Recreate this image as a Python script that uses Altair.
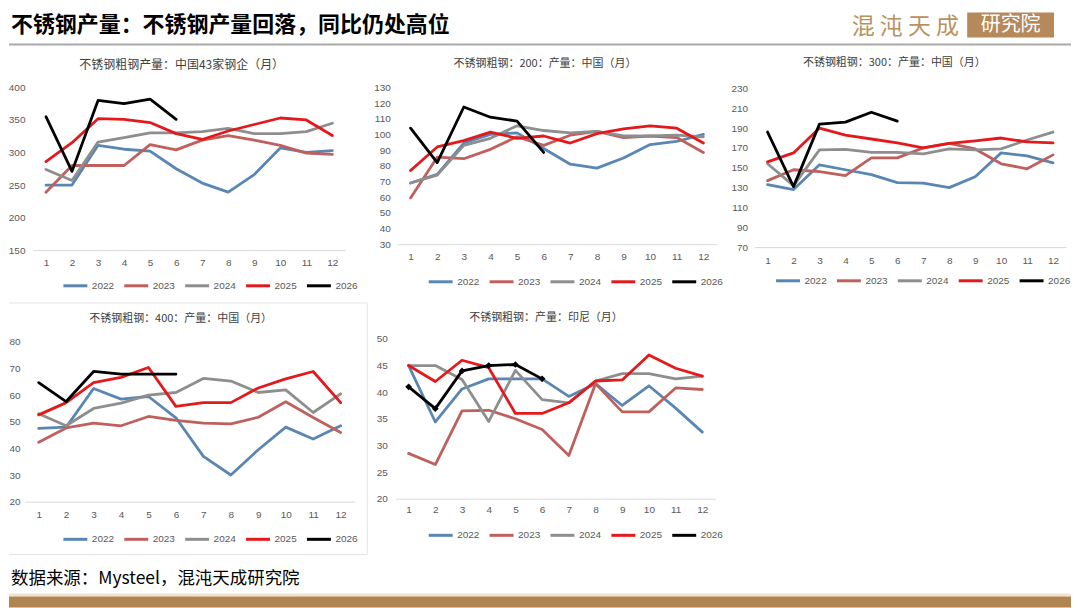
import altair as alt
import pandas as pd

MONTHS = list(range(1, 13))
YEARS = ["2022", "2023", "2024", "2025", "2026"]
COLORS = ["#5A86B4", "#C0605E", "#8E8E8E", "#E3191C", "#000000"]

HEADER = "不锈钢产量：不锈钢产量回落，同比仍处高位"
SOURCE = "数据来源：Mysteel，混沌天成研究院"
LOGO_A = "混 沌 天 成"
LOGO_B = "研究院"

P1_TITLE = "不锈钢粗钢产量：中国43家钢企（月）"
P1 = {
    "2022": [250, 250, 311, 305, 302, 275, 253, 239, 266, 307, 300, 303],
    "2023": [239, 280, 280, 280, 312, 304, 319, 326, 319, 311, 299, 297],
    "2024": [274, 257, 316, 323, 330, 330, 332, 337, 329, 329, 332, 345],
    "2025": [286, 315, 352, 351, 346, 329, 320, 333, 343, 353, 350, 326],
    "2026": [355, 271, 380, 375, 382, 351],
}
P1_TICKS = [150, 200, 250, 300, 350, 400]

P2_TITLE = "不锈钢粗钢：200：产量：中国（月）"
P2 = {
    "2022": [69, 74.5, 94.5, 100, 101, 91, 81, 78.5, 85, 93.5, 95.5, 100],
    "2023": [59.5, 85.5, 84.5, 90.5, 98.5, 93, 99.5, 102, 98, 99, 98, 88.5],
    "2024": [69, 74, 93, 97.5, 105.5, 102.5, 101, 102, 99, 99, 99.5, 98.5],
    "2025": [77, 92, 96, 101.5, 97.5, 99, 94.5, 100.5, 103.5, 105.5, 104, 94.5],
    "2026": [104, 82, 117.5, 111, 108.5, 88.5],
}
P2_TICKS = [30, 40, 50, 60, 70, 80, 90, 100, 110, 120, 130]

P3_TITLE = "不锈钢粗钢：300：产量：中国（月）"
P3 = {
    "2022": [133, 128, 153, 148, 143, 135, 134.5, 130, 141, 165, 162, 155],
    "2023": [137, 148, 146, 142, 160, 160, 170, 174.5, 169, 154, 149, 163],
    "2024": [154, 132, 168, 168.5, 165.5, 165.5, 164, 169, 168, 169, 178, 186],
    "2025": [156, 165, 190, 183, 179, 175, 170, 174.5, 177, 180, 176, 175],
    "2026": [186, 131, 194, 196, 206, 197],
}
P3_TICKS = [70, 90, 110, 130, 150, 170, 190, 210, 230]

P4_TITLE = "不锈钢粗钢：400：产量：中国（月）"
P4 = {
    "2022": [47.5, 48, 62.5, 58.5, 59.5, 51.5, 37, 30, 39.5, 48, 43.5, 48.5],
    "2023": [42.3, 47.7, 49.5, 48.5, 52, 50.5, 49.5, 49.2, 51.7, 57.5, 51.6, 46],
    "2024": [53, 48.5, 55, 57, 60, 61, 66.3, 65.3, 61, 62, 53.5, 60.5],
    "2025": [52.6, 57.2, 64.7, 66.7, 70.4, 55.8, 57.2, 57.2, 62.7, 66.1, 68.9, 57.2],
    "2026": [64.7, 57.6, 68.9, 67.9, 67.9, 67.9],
}
P4_TICKS = [20, 30, 40, 50, 60, 70, 80]

P5_TITLE = "不锈钢粗钢：产量：印尼（月）"
P5 = {
    "2022": [45, 34.4, 40.6, 42.5, 42.5, 42.5, 39.2, 41.6, 37.5, 41.2, 37, 32.5],
    "2023": [28.5, 26.4, 36.5, 36.6, 35, 33, 28.1, 41.6, 36.3, 36.3, 40.8, 40.5],
    "2024": [45, 45, 42.4, 34.5, 44.1, 38.6, 38, 42.1, 43.5, 43.5, 42.5, 43],
    "2025": [45, 42, 46, 44.6, 36, 36, 38, 42.1, 42.3, 47, 44.5, 43],
    "2026": [41, 36.9, 44, 45, 45.2, 42.5],
}
P5_TICKS = [20, 25, 30, 35, 40, 45, 50]

LABEL_FONT = "Liberation Sans"
CJK = "Noto Sans CJK SC"
GREY_TXT = "#595959"


def long_df(d):
    rows = []
    for y in YEARS:
        for m, v in zip(MONTHS, d[y]):
            rows.append({"month": m, "year": y, "value": v})
    return pd.DataFrame(rows)


def one(**kw):
    return pd.DataFrame([kw])


def panel(d, title, tpos, tsize, ydom, yticks, yrange, xrange, W, H, ylab_pad,
          xlab_pad, legX, legY, extra_before=(), extra_after=(), diamonds=False):
    df = long_df(d)
    x = alt.X("month:O",
              scale=alt.Scale(type="point", domain=MONTHS, range=xrange, padding=0.5),
              axis=alt.Axis(title=None, labelAngle=0, ticks=False, tickSize=0,
                            grid=False, domainColor="#D9D9D9", domainWidth=1,
                            labelColor=GREY_TXT, labelFontSize=10, labelFont=LABEL_FONT,
                            labelPadding=xlab_pad))
    y = alt.Y("value:Q",
              scale=alt.Scale(domain=ydom, range=yrange, nice=False, zero=False),
              axis=alt.Axis(title=None, values=yticks, domain=False, ticks=False,
                            tickSize=0, grid=False, labelColor=GREY_TXT,
                            labelFontSize=10, labelFont=LABEL_FONT,
                            labelPadding=ylab_pad))
    color = alt.Color("year:N",
                      scale=alt.Scale(domain=YEARS, range=COLORS),
                      legend=alt.Legend(title=None, orient="none", legendX=legX,
                                        legendY=legY, direction="horizontal",
                                        symbolType="stroke", symbolSize=576,
                                        symbolStrokeWidth=3, labelFontSize=10,
                                        labelFont=LABEL_FONT, labelColor=GREY_TXT,
                                        labelOffset=3, columnPadding=3, padding=0))
    lines = alt.Chart(df).mark_line(strokeWidth=2.8, strokeJoin="round",
                                    strokeCap="round").encode(x=x, y=y, color=color)
    ttl = alt.Chart(one(t=title)).mark_text(
        align="center", baseline="middle", fontSize=tsize, font=CJK,
        fontWeight="normal", color="#404040"
    ).encode(x=alt.value(tpos[0]), y=alt.value(tpos[1]), text="t:N")
    layers = list(extra_before) + [lines]
    if diamonds:
        pts = alt.Chart(df[df["year"] == "2026"]).mark_point(
            shape="diamond", filled=True, size=45, opacity=1
        ).encode(x=x, y=y, color=alt.value("#000000"))
        layers.append(pts)
    layers += [ttl] + list(extra_after)
    return alt.layer(*layers).properties(width=W, height=H)


# ---- decorations anchored to panel 1 view origin (page 24, 87) ----
OX, OY = 24, 87


def px(v):
    return alt.value(v - OX)


def py(v):
    return alt.value(v - OY)


bounds_box = alt.Chart(one(a=1)).mark_rect(color="white", opacity=0).encode(
    x=px(8), x2=px(1072), y=py(8), y2=py(608))
head_txt = alt.Chart(one(t=HEADER)).mark_text(
    align="left", baseline="middle", fontSize=22, font=CJK, fontWeight="bold",
    color="#000000").encode(x=px(10), y=py(24), text="t:N")
head_rule = alt.Chart(one(a=1)).mark_rule(color="#A9A9A9", strokeWidth=2).encode(
    x=px(8), x2=px(1072), y=py(44))
logo_a = alt.Chart(one(t=LOGO_A)).mark_text(
    align="center", baseline="middle", fontSize=23, font=CJK, fontWeight="normal",
    color="#B8925E").encode(x=px(906), y=py(26), text="t:N")
logo_box = alt.Chart(one(a=1)).mark_rect(color="#B5895A").encode(
    x=px(968), x2=px(1055), y=py(12), y2=py(37))
logo_b = alt.Chart(one(t=LOGO_B)).mark_text(
    align="center", baseline="middle", fontSize=20, font=CJK, fontWeight="normal",
    color="#FFFFFF").encode(x=px(1011.5), y=py(24.5), text="t:N")
foot_txt = alt.Chart(one(t=SOURCE)).mark_text(
    align="left", baseline="middle", fontSize=17.5, font=CJK, fontWeight="normal",
    color="#000000").encode(x=px(10), y=py(580), text="t:N")
foot_line = alt.Chart(one(a=1)).mark_rect(color="#EEE3D0").encode(
    x=px(8), x2=px(1072), y=py(594), y2=py(597))
foot_band = alt.Chart(one(a=1)).mark_rect(color="#B08551").encode(
    x=px(8), x2=px(1072), y=py(597), y2=py(608))

# faint frame of panel 4 (view origin page 24, 339)
P4X, P4Y = 24, 339
fr = "#E4E4E4"
f_top = alt.Chart(one(a=1)).mark_rule(color=fr, strokeWidth=1).encode(
    x=alt.value(8 - P4X), x2=alt.value(367 - P4X), y=alt.value(303 - P4Y))
f_right = alt.Chart(one(a=1)).mark_rule(color=fr, strokeWidth=1).encode(
    x=alt.value(367 - P4X), y=alt.value(303 - P4Y), y2=alt.value(555 - P4Y))
f_bot = alt.Chart(one(a=1)).mark_rule(color=fr, strokeWidth=1).encode(
    x=alt.value(8 - P4X), x2=alt.value(367 - P4X), y=alt.value(555 - P4Y))

c1 = panel(P1, P1_TITLE, (157, -22), 12, [150, 400], P1_TICKS, [163, 0], [8, 321],
           330, 163, 0, 7.5, 37, 185,
           extra_before=[bounds_box, head_rule],
           extra_after=[head_txt, logo_a, logo_box, logo_b, foot_txt, foot_line, foot_band])
c2 = panel(P2, P2_TITLE, (151, -23), 11, [30, 130], P2_TICKS, [157, 0], [3, 323],
           321, 157, 4, 7, 33, 181)
c3 = panel(P3, P3_TITLE, (140, -24), 11, [70, 230], P3_TICKS, [160, 1], [0, 312],
           312, 160, 7, 8.5, 20, 180)
c4 = panel(P4, P4_TITLE, (156, -20), 11, [20, 80], P4_TICKS, [163, 3], [0, 330],
           330, 163, 5, 7.5, 37, 187, extra_before=[f_top, f_right, f_bot])
c5 = panel(P5, P5_TITLE, (152, -21), 11, [20, 50], P5_TICKS, [160, 0], [1, 322],
           321, 160, 7, 6, 33, 183, diamonds=True)

chart = alt.concat(
    c1, c2, c3, c4, c5, columns=3, bounds="flush", align="each",
    spacing={"row": 89, "column": 40},
).resolve_scale(
    x="independent", y="independent", color="independent"
).resolve_legend(color="independent").properties(
    padding=0
).configure_view(stroke=None)

chart.save("out.html", embed_options={"renderer": "svg", "actions": False})
